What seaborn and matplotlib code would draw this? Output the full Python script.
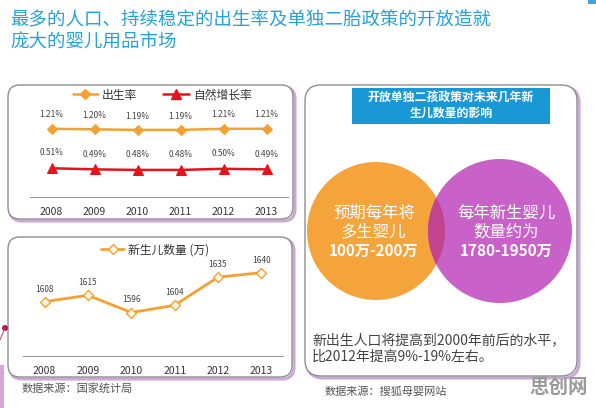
import matplotlib
matplotlib.use("Agg")
import matplotlib.pyplot as plt
import seaborn as sns
import pandas as pd
from matplotlib.patches import FancyBboxPatch, Circle, Rectangle
from matplotlib.lines import Line2D

sns.set_style("white")
plt.rcParams['font.family'] = ['Noto Sans CJK SC', 'DejaVu Sans']

# ---------------- data ----------------
years = [2008, 2009, 2010, 2011, 2012, 2013]
year_labels = ["2008", "2009", "2010", "2011", "2012", "2013"]
birth_rate = [1.21, 1.20, 1.19, 1.19, 1.21, 1.21]
growth_rate = [0.51, 0.49, 0.48, 0.48, 0.50, 0.49]
newborns = [1608, 1615, 1596, 1604, 1635, 1640]

title_lines = ["最多的人口、持续稳定的出生率及单独二胎政策的开放造就", "庞大的婴儿用品市场"]
legend1 = ["出生率", "自然增长率"]
legend2 = "新生儿数量 (万)"
header_text = "开放单独二孩政策对未来几年新\n生儿数量的影响"
left_circle_text = ["预期每年将", "多生婴儿", "100万-200万"]
right_circle_text = ["每年新生婴儿", "数量约为", "1780-1950万"]
note_text = ["新出生人口将提高到2000年前后的水平，", "比2012年提高9%-19%左右。"]
source_left = "数据来源：国家统计局"
source_right = "数据来源：搜狐母婴网站"
watermark = "思创网"

ORANGE = "#F3A131"
RED = "#E3141C"
TXT = "#444444"

W, H = 596, 408
fig = plt.figure(figsize=(W / 100, H / 100), dpi=100)
fig.patch.set_facecolor("white")

# background / decoration axes in pixel coordinates
bg = fig.add_axes([0, 0, 1, 1])
bg.set_xlim(0, W)
bg.set_ylim(H, 0)
bg.axis("off")


def px_axes(x0, x1, y_top, y_bot):
    return [x0 / W, 1 - y_bot / H, (x1 - x0) / W, (y_bot - y_top) / H]


def rbox(x0, y0, x1, y1, r=12):
    sh = FancyBboxPatch((x0 + 2, y0 + 2), x1 - x0, y1 - y0,
                        boxstyle=f"round,pad=0,rounding_size={r}",
                        fc="none", ec="#CBA8D6", lw=2.2, zorder=1)
    bg.add_patch(sh)
    b = FancyBboxPatch((x0, y0), x1 - x0, y1 - y0,
                       boxstyle=f"round,pad=0,rounding_size={r}",
                       fc="white", ec="#8E8E8E", lw=1.0, zorder=2)
    bg.add_patch(b)


# title
bg.text(10, 20, title_lines[0], color="#25A3D9", fontsize=13.3, va="center", ha="left")
bg.text(10, 43, title_lines[1], color="#25A3D9", fontsize=13.3, va="center", ha="left")
bg.add_patch(Rectangle((588, 0), 8, 4, fc="#3AA6DD", ec="none"))

# panels
rbox(8, 85, 293, 219)
rbox(8, 237, 292, 377)
rbox(305, 85, 577, 376, r=16)

# decoration at left edge
bg.add_patch(Circle((5, 328), 3, fc="#B0165C", ec="none", zorder=3))
bg.plot([0, 5], [340, 328], color="#C04A8A", lw=0.8, zorder=3)
bg.add_patch(Rectangle((0, 365), 4, 43, fc="#D9A6D8", ec="none", zorder=3))

# header
bg.add_patch(Rectangle((352, 88), 198, 36, fc="#1A98D6", ec="none", zorder=3))
bg.text(451, 106, header_text, color="white", fontsize=8.6, fontweight="bold",
        ha="center", va="center", linespacing=1.25, zorder=4)

# circles
c_or = Circle((376, 231), 69, fc="#F5A33B", ec="none", zorder=3)
c_pu = Circle((500, 231), 72, fc="#C862C8", ec="none", zorder=3)
bg.add_patch(c_or)
bg.add_patch(c_pu)
c_ov = Circle((500, 231), 72, fc="#C2448F", ec="none", zorder=4)
bg.add_patch(c_ov)
c_ov.set_clip_path(c_or)

for i, (t, y) in enumerate(zip(left_circle_text, [213, 232, 251])):
    bg.text(374, y, t, color="white", fontsize=11.8 if i < 2 else 11,
            fontweight="bold" if i == 2 else "normal", ha="center", va="center", zorder=5)
for i, (t, y) in enumerate(zip(right_circle_text, [213, 232, 251])):
    bg.text(506, y, t, color="white", fontsize=11.8 if i < 2 else 11,
            fontweight="bold" if i == 2 else "normal", ha="center", va="center", zorder=5)

bg.text(312, 340, note_text[0], color=TXT, fontsize=10, ha="left", va="center", zorder=5)
bg.text(312, 357, note_text[1], color=TXT, fontsize=10, ha="left", va="center", zorder=5)

bg.text(22, 388, source_left, color="#555555", fontsize=8, ha="left", va="center")
bg.text(325, 392, source_right, color="#555555", fontsize=8, ha="left", va="center")
bg.text(559, 387, watermark, color="#9A9A9A", fontsize=14, fontweight="bold",
        ha="center", va="center")


def style_axis(ax):
    ax.set_facecolor("none")
    for s in ["top", "right", "left"]:
        ax.spines[s].set_visible(False)
    ax.spines["bottom"].set_color("#9A9A9A")
    ax.spines["bottom"].set_linewidth(0.8)
    ax.set_xlim(2007.5, 2013.5)
    ax.set_xticks(years)
    ax.set_xticklabels(year_labels, fontsize=7.5, color="#333333")
    ax.tick_params(axis="x", which="major", length=0, pad=7)
    ax.set_xticks([y - 0.5 for y in years] + [2013.5], minor=True)
    ax.tick_params(axis="x", which="minor", length=4, direction="inout", color="#9A9A9A")
    ax.set_yticks([])
    ax.set_xlabel("")
    ax.set_ylabel("")


# ---------------- chart 1 ----------------
ax1 = fig.add_axes(px_axes(30, 288, 100, 197))
df1 = pd.DataFrame({"year": years, "birth": birth_rate, "growth": growth_rate})
sns.lineplot(data=df1, x="year", y="birth", ax=ax1, color=ORANGE, marker="D",
             markersize=5, markeredgecolor=ORANGE, lw=1.8)
sns.lineplot(data=df1, x="year", y="growth", ax=ax1, color=RED, marker="^",
             markersize=6.5, markeredgecolor=RED, lw=1.8)
ax1.set_ylim(0, 1.72)
style_axis(ax1)
for x, v in zip(years, birth_rate):
    ax1.annotate(f"{v:.2f}%", (x, v), xytext=(0, 10), textcoords="offset points",
                 ha="center", va="center", fontsize=6, color=TXT)
for x, v in zip(years, growth_rate):
    ax1.annotate(f"{v:.2f}%", (x, v), xytext=(0, 11), textcoords="offset points",
                 ha="center", va="center", fontsize=6, color=TXT)
h1 = [Line2D([], [], color=ORANGE, marker="D", markersize=5, lw=1.8),
      Line2D([], [], color=RED, marker="^", markersize=6.5, lw=1.8)]
ax1.legend(h1, legend1, loc="center", bbox_to_anchor=(162 / W, 1 - 95 / H),
           bbox_transform=fig.transFigure, ncol=2, frameon=False, fontsize=8.5,
           handlelength=2.2, handletextpad=0.3, columnspacing=2.2, labelcolor="#333333")

# ---------------- chart 2 ----------------
ax2 = fig.add_axes(px_axes(23, 283, 240, 356))
df2 = pd.DataFrame({"year": years, "newborns": newborns})
sns.lineplot(data=df2, x="year", y="newborns", ax=ax2, color=ORANGE, marker="D",
             markersize=5, markerfacecolor="#FFF6E6", markeredgecolor=ORANGE,
             markeredgewidth=1.0, lw=2)
ax2.set_ylim(1548, 1676)
style_axis(ax2)
for x, v in zip(years, newborns):
    ax2.annotate(f"{v}", (x, v), xytext=(0, 9), textcoords="offset points",
                 ha="center", va="center", fontsize=6, color=TXT)
h2 = [Line2D([], [], color=ORANGE, marker="D", markersize=5, markerfacecolor="#FFF6E6",
             markeredgecolor=ORANGE, lw=2)]
ax2.legend(h2, [legend2], loc="center", bbox_to_anchor=(155 / W, 1 - 250 / H),
           bbox_transform=fig.transFigure, frameon=False, fontsize=8.5,
           handlelength=2.0, handletextpad=0.3, labelcolor="#333333")

fig.savefig("out.png", dpi=100)
